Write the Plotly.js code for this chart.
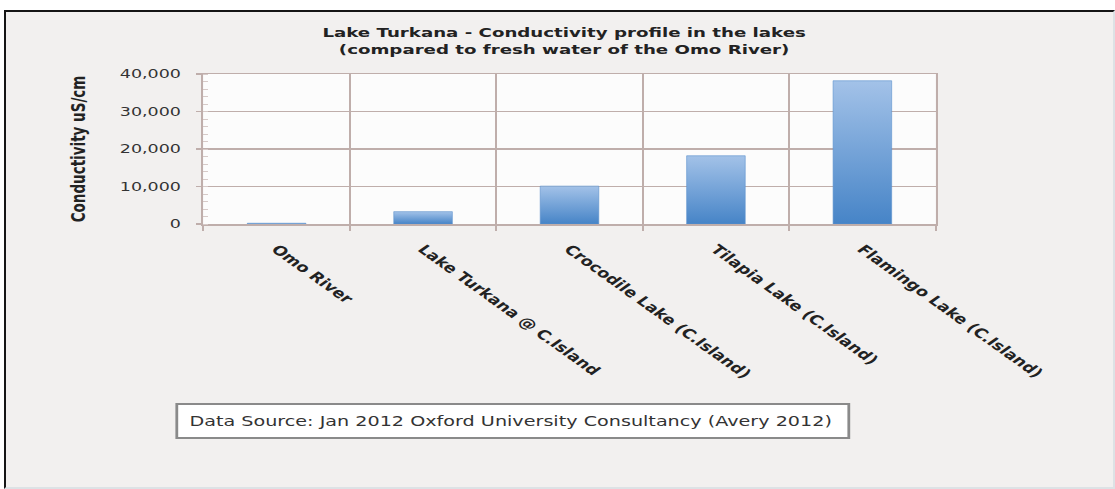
<!DOCTYPE html>
<html>
<head>
<meta charset="utf-8">
<script src="https://cdn.plot.ly/plotly-3.0.1.min.js"></script>
<style>
  html, body { margin: 0; padding: 0; background: #ffffff; }
  #frame {
    position: absolute; left: 4px; top: 10px;
    width: 1107px; height: 475px; overflow: hidden;
    border-top: 2px solid #151515; border-left: 2px solid #151515;
    border-right: 2px solid #dde2e5; border-bottom: 2px solid #dde2e5;
    background: #f2f0ef;
  }
  /* the reference picture is stretched horizontally by about 1.4x */
  #chart { width: 791px; height: 475px; transform: scaleX(1.4); transform-origin: 0 0; }
</style>
</head>
<body>
<div id="frame"><div id="chart"></div></div>
<script>
// ---- data ----
const categories = [
  "Omo River",
  "Lake Turkana @ C.Island",
  "Crocodile Lake (C.Island)",
  "Tilapia Lake (C.Island)",
  "Flamingo Lake (C.Island)"
];
const conductivity = [200, 3300, 10100, 18200, 38200];
const yTickValues = [0, 10000, 20000, 30000, 40000];
const yTickLabels = ["0", "10,000", "20,000", "30,000", "40,000"];
const chartTitle = "Lake Turkana - Conductivity profile in the lakes<br>(compared to fresh water of the Omo River)";
const yTitle = "Conductivity uS/cm";
const sourceNote = "Data Source: Jan 2012 Oxford University Consultancy (Avery 2012)";

const gridCol = "#bfaeab";
const textCol = "#222222";

const trace = {
  type: "bar",
  x: categories,
  y: conductivity,
  marker: { color: "#6a9fd9", line: { color: "#5b90cc", width: 0.5 } },
  hoverinfo: "x+y"
};

const layout = {
  width: 791, height: 475,
  margin: { l: 141, r: 127, t: 62, b: 263 },
  paper_bgcolor: "#f2f0ef",
  plot_bgcolor: "#fcfcfc",
  showlegend: false,
  bargap: 0.6,
  title: {
    text: chartTitle,
    xref: "container", x: 0.504, xanchor: "center",
    yref: "container", y: 0.948, yanchor: "top",
    font: { family: "DejaVu Sans", size: 13, color: textCol, weight: "bold" }
  },
  xaxis: {
    type: "category",
    tickangle: 45,
    ticklabelstandoff: 11,
    tickfont: { family: "DejaVu Sans", size: 13, color: textCol, weight: "bold" },
    tickson: "boundaries",
    ticks: "outside", ticklen: 5, tickcolor: gridCol, tickwidth: 1.5,
    showgrid: true, gridcolor: gridCol, gridwidth: 1.5,
    showline: true, linecolor: gridCol, linewidth: 1.5, mirror: true,
    automargin: false,
    fixedrange: true
  },
  yaxis: {
    range: [0, 40000],
    tickvals: yTickValues, ticktext: yTickLabels,
    ticks: "outside", ticklen: 4, tickcolor: gridCol, tickwidth: 1.5,
    ticklabelstandoff: 8,
    tickfont: { family: "DejaVu Sans", size: 12.5, color: "#333333" },
    minor: { dtick: 2000, ticks: "inside", ticklen: 3, tickcolor: "#d6cac8", tickwidth: 1, showgrid: false },
    showgrid: true, gridcolor: gridCol, gridwidth: 1.5,
    showline: true, linecolor: gridCol, linewidth: 1.5, mirror: true,
    zeroline: false,
    automargin: false,
    title: {
      text: yTitle, standoff: 21,
      font: { family: "DejaVu Sans", size: 13.5, color: textCol, weight: "bold" }
    },
    fixedrange: true
  },
  annotations: [{
    xref: "paper", yref: "paper",
    x: -0.038, y: -1.19, xanchor: "left", yanchor: "top",
    text: sourceNote, showarrow: false,
    width: 462, align: "left",
    bgcolor: "#ffffff", bordercolor: "#8a8a8a", borderwidth: 2, borderpad: 8,
    font: { family: "DejaVu Sans", size: 13.7, color: "#333333" }
  }]
};

Plotly.newPlot("chart", [trace], layout, { displayModeBar: false, staticPlot: true }).then(gd => {
  // vertical gradient fill on the bars, as in the reference
  const svg = gd.querySelector("svg.main-svg");
  const NS = "http://www.w3.org/2000/svg";
  let defs = svg.querySelector("defs");
  if (!defs) { defs = document.createElementNS(NS, "defs"); svg.insertBefore(defs, svg.firstChild); }
  const grad = document.createElementNS(NS, "linearGradient");
  grad.setAttribute("id", "barGrad");
  grad.setAttribute("x1", "0"); grad.setAttribute("y1", "0");
  grad.setAttribute("x2", "0"); grad.setAttribute("y2", "1");
  [["0%", "#a3c2e8"], ["100%", "#4684c7"]].forEach(([o, c]) => {
    const s = document.createElementNS(NS, "stop");
    s.setAttribute("offset", o); s.setAttribute("stop-color", c);
    grad.appendChild(s);
  });
  defs.appendChild(grad);
  gd.querySelectorAll(".bars .point path").forEach(p => { p.style.fill = "url(#barGrad)"; });
});
</script>
</body>
</html>
